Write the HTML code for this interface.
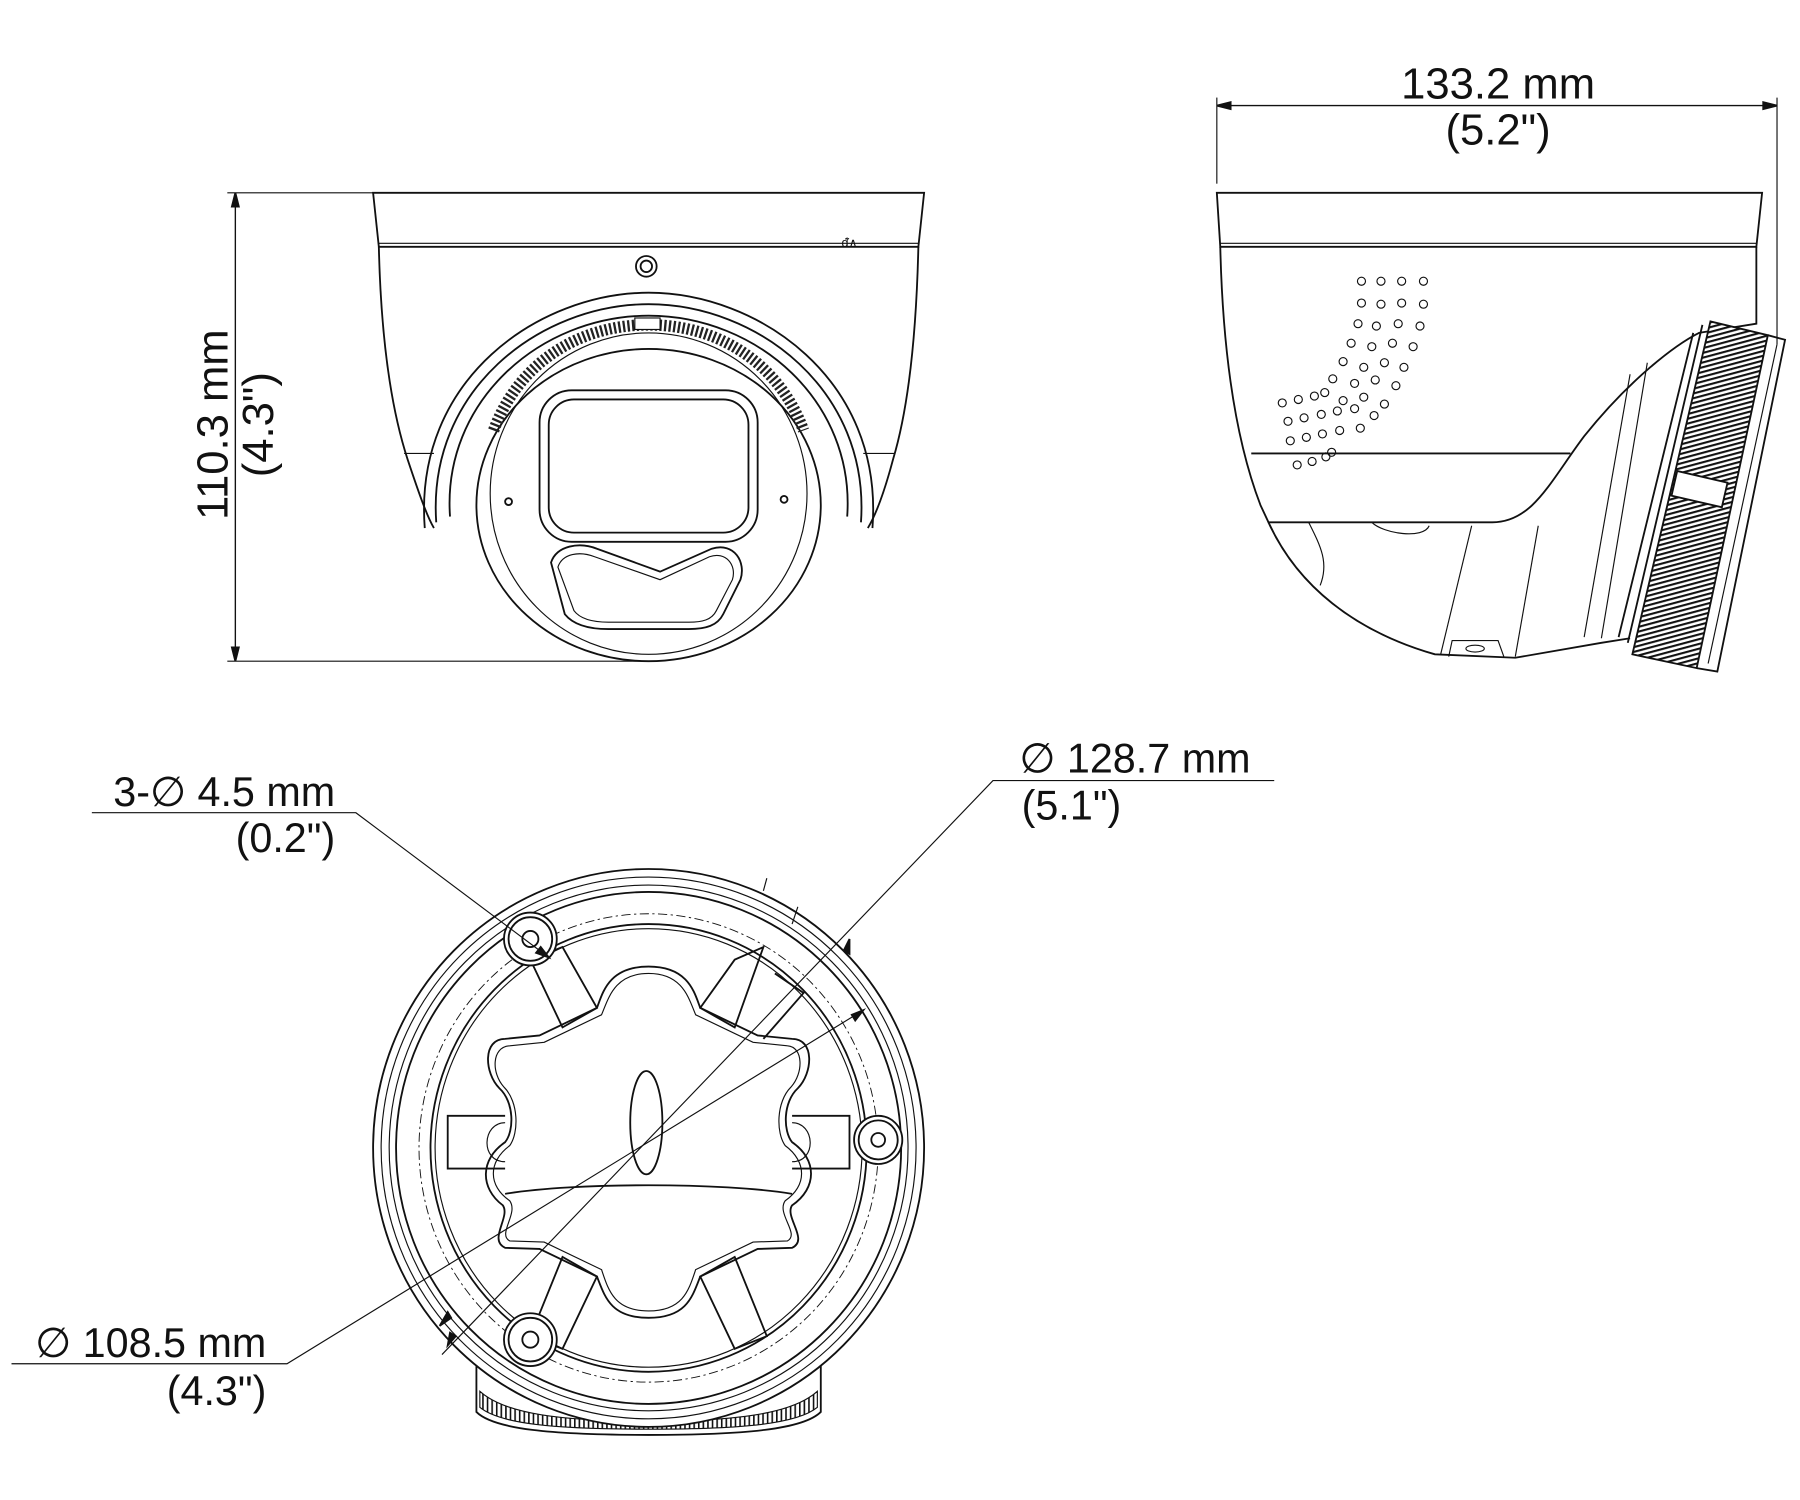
<!DOCTYPE html>
<html><head><meta charset="utf-8"><style>
html,body{margin:0;padding:0;background:#fff;}
svg{display:block}
text{font-family:"Liberation Sans",sans-serif;fill:#111;}
</style></head><body>
<svg width="1800" height="1500" viewBox="0 0 1568 1306.7" xmlns="http://www.w3.org/2000/svg">
<defs>
<pattern id="teeth" width="4" height="4" patternUnits="userSpaceOnUse" patternTransform="rotate(-15)">
<rect width="4" height="4" fill="#fff"/><rect width="4" height="1.8" fill="#111"/></pattern>
<pattern id="vteeth" width="4" height="4" patternUnits="userSpaceOnUse">
<rect width="4" height="4" fill="#fff"/><rect width="1.4" height="4" fill="#111"/></pattern>
</defs>
<g fill="none" stroke="#111" stroke-width="1.6">
<!-- FRONT VIEW dimension -->
<line x1="198" y1="168" x2="325" y2="168" stroke-width="1"/>
<line x1="198" y1="576" x2="565" y2="576" stroke-width="1"/>
<line x1="205" y1="168" x2="205" y2="576" stroke-width="1.2"/>
<path d="M205,168 l-3,12 l6,0 z M205,576 l-3,-12 l6,0 z" fill="#111"/>
<!-- front cap -->
<path d="M325,168 L805,168 L800,215 L330,215 Z"/>
<line x1="330" y1="212" x2="800" y2="212" stroke-width="1"/>
<path d="M330,215 C332,300 342,360 355,400 C365,430 372,450 378,460"/>
<path d="M800,215 C798,300 790,360 778,400 C770,430 762,450 756,460"/>
<circle cx="563" cy="232" r="9"/><circle cx="563" cy="232" r="5"/>
<text x="733" y="215" font-size="11" stroke="none">ᵭ∧</text>
<line x1="352" y1="395" x2="378" y2="395" stroke-width="1"/>
<line x1="752" y1="395" x2="780" y2="395" stroke-width="1"/>
<!-- shroud -->
<path d="M370,460 C360,330 470,255 565,255 C660,255 770,330 760,460"/>
<path d="M380,455 C372,340 470,265 565,265 C660,265 758,340 750,455"/>
<path d="M392,450 C385,350 470,275 565,275 C660,275 745,350 738,450"/>
<!-- ball -->
<ellipse cx="565" cy="440" rx="150" ry="136"/>
<ellipse cx="565" cy="430" rx="138" ry="140" stroke-width="1"/>
<path d="M430,375 C450,320 500,283 565,283 C630,283 680,320 700,375" stroke-width="10" stroke-dasharray="2 2" stroke="#222"/>
<rect x="553" y="277" width="22" height="10" stroke-width="1" fill="#fff"/>
<rect x="470" y="340" width="190" height="132" rx="28"/>
<rect x="478" y="348" width="174" height="116" rx="22"/>
<path d="M480,490 C485,475 505,472 520,478 L575,498 L620,478 C640,472 650,490 645,505 L630,535 C625,545 615,548 600,548 L530,548 C515,548 500,545 492,535 Z"/>
<path d="M486,494 C490,482 505,480 518,485 L575,505 L618,485 C632,480 642,492 638,505 L624,532 C620,540 612,542 600,542 L530,542 C518,542 506,540 500,532 Z" stroke-width="1"/>
<circle cx="443" cy="437" r="3"/><circle cx="683" cy="435" r="3"/>

<!-- SIDE VIEW dimension -->
<line x1="1060" y1="85" x2="1060" y2="160" stroke-width="1"/>
<line x1="1548" y1="85" x2="1548" y2="300" stroke-width="1"/>
<line x1="1060" y1="92" x2="1548" y2="92" stroke-width="1.2"/>
<path d="M1060,92 l12,-3 l0,6 z M1548,92 l-12,-3 l0,6 z" fill="#111"/>
<path d="M1060,168 L1535,168 L1530,215 L1063,215 Z"/>
<line x1="1063" y1="212" x2="1530" y2="212" stroke-width="1"/>
<path d="M1063,215 C1065,300 1075,380 1098,440 L1105,455 L1300,455 C1335,455 1350,420 1380,380 C1420,330 1460,300 1480,290 L1530,282 L1530,215"/>
<line x1="1090" y1="395" x2="1368" y2="395"/>
<path d="M1105,455 C1130,510 1180,550 1250,570 L1320,573 L1395,560 L1420,556"/>
<path d="M1140,455 C1150,475 1158,490 1150,510" stroke-width="1"/>
<path d="M1195,455 C1205,465 1240,470 1245,458" stroke-width="1"/>
<line x1="1282" y1="458" x2="1255" y2="570" stroke-width="1"/>
<path d="M1262,572 L1265,558 L1305,558 L1310,572" stroke-width="1"/>
<ellipse cx="1285" cy="565" rx="8" ry="3" stroke-width="1"/>
<line x1="1340" y1="458" x2="1320" y2="572" stroke-width="1"/>
<path d="M1420,326 L1380,555" stroke-width="1"/>
<path d="M1435,316 L1395,556" stroke-width="1"/>
<path d="M1475,290 L1410,555"/>
<path d="M1483,283 L1418,560"/>
<!-- knurled ring -->
<path d="M1490,280 L1540,292 L1478,582 L1422,570 Z" fill="url(#teeth)"/>
<path d="M1540,292 L1555,296 L1496,585 L1478,582"/>
<path d="M1548,300 L1488,578" stroke-width="1"/>
<rect x="1458" y="415" width="45" height="22" fill="#fff" transform="rotate(13 1480 426)"/>
<!-- vent dots -->
<g stroke-width="1">
<circle cx="1186" cy="245" r="3.5"/><circle cx="1203" cy="245" r="3.5"/><circle cx="1221" cy="245" r="3.5"/><circle cx="1240" cy="245" r="3.5"/>
<circle cx="1186" cy="264" r="3.5"/><circle cx="1203" cy="265" r="3.5"/><circle cx="1221" cy="264" r="3.5"/><circle cx="1240" cy="265" r="3.5"/>
<circle cx="1183" cy="282" r="3.5"/><circle cx="1199" cy="284" r="3.5"/><circle cx="1218" cy="282" r="3.5"/><circle cx="1237" cy="284" r="3.5"/>
<circle cx="1177" cy="299" r="3.5"/><circle cx="1195" cy="302" r="3.5"/><circle cx="1213" cy="299" r="3.5"/><circle cx="1231" cy="302" r="3.5"/>
<circle cx="1170" cy="315" r="3.5"/><circle cx="1188" cy="320" r="3.5"/><circle cx="1206" cy="316" r="3.5"/><circle cx="1223" cy="320" r="3.5"/>
<circle cx="1161" cy="330" r="3.5"/><circle cx="1180" cy="334" r="3.5"/><circle cx="1198" cy="331" r="3.5"/><circle cx="1216" cy="336" r="3.5"/>
<circle cx="1117" cy="351" r="3.5"/><circle cx="1131" cy="348" r="3.5"/><circle cx="1145" cy="345" r="3.5"/><circle cx="1154" cy="342" r="3.5"/><circle cx="1170" cy="349" r="3.5"/><circle cx="1188" cy="346" r="3.5"/><circle cx="1206" cy="352" r="3.5"/>
<circle cx="1122" cy="367" r="3.5"/><circle cx="1136" cy="364" r="3.5"/><circle cx="1151" cy="361" r="3.5"/><circle cx="1165" cy="358" r="3.5"/><circle cx="1180" cy="356" r="3.5"/><circle cx="1197" cy="362" r="3.5"/>
<circle cx="1124" cy="384" r="3.5"/><circle cx="1138" cy="381" r="3.5"/><circle cx="1152" cy="378" r="3.5"/><circle cx="1167" cy="375" r="3.5"/><circle cx="1185" cy="373" r="3.5"/>
<circle cx="1130" cy="405" r="3.5"/><circle cx="1143" cy="402" r="3.5"/><circle cx="1155" cy="398" r="3.5"/><circle cx="1160" cy="394" r="3.5"/>
</g>

<!-- BOTTOM VIEW -->
<path d="M415,1190 L415,1230 C430,1245 480,1250 565,1250 C650,1250 700,1245 715,1230 L715,1190 Z" fill="#fff"/>
<path d="M418,1212 C440,1232 490,1238 565,1238 C640,1238 690,1232 712,1212 L712,1226 C695,1240 650,1245 565,1245 C480,1245 435,1240 418,1226 Z" fill="url(#vteeth)" stroke-width="1"/>
<ellipse cx="565" cy="1000" rx="240" ry="243" fill="#fff"/>
<ellipse cx="565" cy="1000" rx="233" ry="236" stroke-width="1"/>
<ellipse cx="565" cy="1000" rx="226" ry="229" stroke-width="1"/>
<ellipse cx="565" cy="1000" rx="220" ry="223"/>
<ellipse cx="565" cy="1000" rx="200" ry="204" stroke-width="0.8" stroke-dasharray="8 3 2 3"/>
<ellipse cx="565" cy="1000" rx="190" ry="195"/>
<ellipse cx="565" cy="1000" rx="186" ry="191" stroke-width="1"/>
<!-- flower plate -->
<path d="M470,902 L520,878 C525,865 530,842 565,842 C600,842 605,865 610,878 L660,902 L690,905 C710,905 708,935 695,948 C682,960 682,985 690,995 C712,1010 712,1035 690,1050 C683,1060 705,1080 690,1087 L660,1088 L610,1112 C603,1130 598,1148 565,1148 C532,1148 527,1130 520,1112 L470,1088 L440,1087 C425,1080 445,1060 438,1050 C418,1035 418,1010 440,995 C448,985 448,960 435,948 C422,935 420,905 440,905 Z"/>
<path d="M474,908 L524,884 C530,870 535,848 565,848 C595,848 600,870 606,884 L656,908 L686,911 C700,912 700,935 689,947 C676,960 676,987 684,998 C703,1012 703,1033 684,1046 C676,1057 697,1075 686,1081 L656,1082 L606,1106 C600,1124 595,1142 565,1142 C535,1142 530,1124 524,1106 L474,1082 L444,1081 C433,1075 452,1057 444,1046 C425,1033 425,1012 444,998 C452,987 452,960 439,947 C428,935 428,912 444,911 Z" stroke-width="1"/>
<path d="M440,1040 C500,1030 630,1030 690,1040"/>
<ellipse cx="563" cy="978" rx="14" ry="45"/>
<!-- tabs -->
<path d="M462,836 L490,825 L520,878 L490,895 Z M665,825 L640,836 L610,878 L640,895 Z"/>
<path d="M675,848 L700,865 L665,905" />
<path d="M462,1164 L490,1175 L520,1112 L490,1095 Z M668,1164 L640,1175 L610,1112 L640,1095 Z"/>
<path d="M440,972 L390,972 L390,1018 L440,1018"/>
<path d="M690,972 L740,972 L740,1018 L690,1018"/>
<path d="M440,978 C420,978 418,1012 440,1012 M690,978 C710,978 712,1012 690,1012" stroke-width="1"/>
<!-- holes -->
<circle cx="462" cy="818" r="23" fill="#fff"/><circle cx="462" cy="818" r="19"/><circle cx="462" cy="818" r="7"/>
<circle cx="765" cy="993" r="21" fill="#fff"/><circle cx="765" cy="993" r="17"/><circle cx="765" cy="993" r="6"/>
<circle cx="462" cy="1167" r="23" fill="#fff"/><circle cx="462" cy="1167" r="19"/><circle cx="462" cy="1167" r="7"/>
<line x1="665" y1="776" x2="668" y2="765" stroke-width="1"/><line x1="690" y1="805" x2="695" y2="790" stroke-width="1"/>
<!-- leader lines -->
<g stroke-width="1">
<polyline points="80,708 310,708 478,834"/>
<polyline points="1110,680 865,680 385,1180"/>
<polyline points="10,1188 250,1188 752,880"/>
</g>
<path d="M478,834 l-11,-4 l4,-5 z" fill="#111"/>
<path d="M740,818 l-5,10 l5,3 z M390,1172 l2,-11 l5,3 z" fill="#111"/>
<path d="M752,880 l-10,4 l3,5 z M383,1155 l10,-7 l-3,-5 z" fill="#111"/>
</g>

<g stroke="none">
<text x="0" y="0" font-size="38" text-anchor="middle" transform="translate(198,370) rotate(-90)">110.3 mm</text>
<text x="0" y="0" font-size="38" text-anchor="middle" transform="translate(238,370) rotate(-90)">(4.3")</text>
<text x="1305" y="86" font-size="38" text-anchor="middle">133.2 mm</text>
<text x="1305" y="126" font-size="38" text-anchor="middle">(5.2")</text>
<text x="292" y="702" font-size="36" text-anchor="end">3-∅ 4.5 mm</text>
<text x="292" y="742" font-size="36" text-anchor="end">(0.2")</text>
<text x="888" y="673" font-size="36">∅ 128.7 mm</text>
<text x="890" y="714" font-size="36">(5.1")</text>
<text x="232" y="1182" font-size="36" text-anchor="end">∅ 108.5 mm</text>
<text x="232" y="1224" font-size="36" text-anchor="end">(4.3")</text>
</g>
</svg>
</body></html>
